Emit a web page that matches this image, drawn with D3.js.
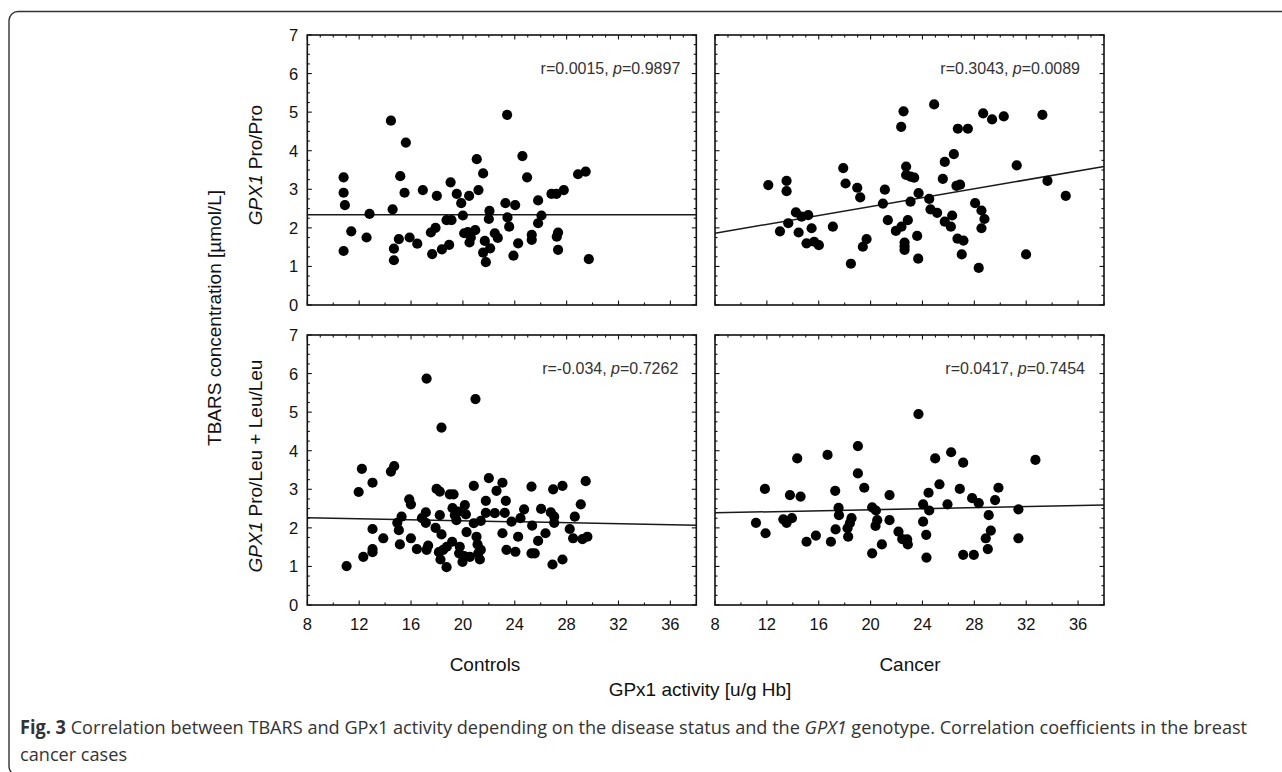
<!DOCTYPE html>
<html>
<head>
<meta charset="utf-8">
<script src="https://cdn.jsdelivr.net/npm/d3@7"></script>
<style>
  html, body { margin: 0; padding: 0; background: #fff; }
  svg { display: block; }
</style>
</head>
<body>
<svg id="chart" width="1282" height="772"></svg>
<script>
// ---------------- DATA ----------------
const xDomain = [8, 38];
const yDomain = [0, 7];
const xTickLabels = [8, 12, 16, 20, 24, 28, 32, 36];
const yTickLabels = [0, 1, 2, 3, 4, 5, 6, 7];
const columnLabels = ["Controls", "Cancer"];
const rowLabels = ["Pro/Pro", "Pro/Leu + Leu/Leu"];

const controlsProPro = [
  [10.8,3.31],[10.8,2.91],[10.9,2.59],[10.8,1.40],[11.39,1.91],[12.57,1.75],[12.8,2.36],[14.45,4.78],
  [14.58,2.48],[14.68,1.46],[14.68,1.16],[15.06,1.71],[15.17,3.34],[15.5,2.91],[15.6,4.21],[15.89,1.75],
  [16.48,1.59],[16.91,2.98],[17.63,1.32],[17.53,1.88],[17.89,2.0],[17.99,2.83],[18.38,1.44],[18.94,1.56],
  [18.74,2.20],[19.12,2.20],[19.05,3.18],[19.53,2.88],[19.87,2.64],[20.0,2.32],[20.1,1.86],[20.38,1.89],
  [20.48,2.83],[20.51,1.62],[20.61,1.75],[20.95,1.94],[21.07,3.78],[21.2,2.98],[21.56,3.41],[21.56,1.36],
  [21.69,1.66],[21.77,1.11],[22.05,2.44],[22.0,2.23],[22.1,1.47],[22.46,1.86],[22.69,1.74],[23.28,2.64],
  [23.41,4.93],[23.44,2.27],[23.57,2.03],[24.03,2.59],[23.9,1.28],[24.26,1.6],[24.59,3.86],[24.95,3.31],
  [25.31,1.82],[25.31,1.69],[25.8,2.71],[25.8,2.12],[26.06,2.32],[26.83,2.88],[27.21,2.88],[27.34,1.88],
  [27.24,1.77],[27.34,1.43],[27.78,2.98],[28.88,3.39],[29.47,3.46],[29.71,1.19]
];
const cancerProPro = [
  [12.11,3.11],[13.52,3.22],[13.52,2.95],[14.24,2.40],[14.68,2.29],[15.19,2.33],[13.65,2.12],[13.01,1.91],
  [14.45,1.88],[15.45,1.99],[15.06,1.60],[15.65,1.64],[16.01,1.55],[17.09,2.03],[17.89,3.55],[18.07,3.15],
  [18.48,1.07],[18.97,3.04],[19.2,2.79],[19.4,1.51],[19.69,1.71],[20.95,2.63],[21.1,2.99],[21.33,2.20],
  [21.95,1.92],[22.38,2.03],[22.36,4.62],[22.54,5.02],[22.74,3.59],[22.74,3.37],[23.08,3.33],[23.36,3.30],
  [22.87,2.20],[23.08,2.68],[22.62,1.62],[22.62,1.43],[22.62,1.52],[23.59,1.79],[23.7,2.90],[23.67,1.20],
  [24.52,2.75],[24.9,5.20],[24.62,2.48],[25.13,2.39],[25.72,2.16],[25.57,3.27],[25.72,3.71],[26.42,3.91],
  [26.29,2.32],[26.19,2.03],[26.62,3.09],[26.9,3.12],[26.73,4.57],[27.5,4.57],[26.7,1.72],[27.16,1.67],
  [27.03,1.31],[28.06,2.64],[28.55,2.45],[28.78,2.23],[28.55,1.99],[28.34,0.96],[28.68,4.97],[29.37,4.81],
  [30.27,4.89],[31.27,3.62],[31.99,1.31],[33.25,4.93],[33.64,3.22],[35.05,2.83]
];
const controlsLeu = [
  [11.03,1.01],[11.96,2.93],[12.21,3.53],[12.32,1.25],[13.03,3.17],[13.03,1.97],[13.03,1.45],[13.03,1.37],
  [13.86,1.73],[14.45,3.46],[14.7,3.60],[14.94,2.13],[15.06,1.94],[15.27,2.29],[15.14,1.57],[15.86,2.74],
  [15.99,2.61],[15.99,1.73],[16.45,1.45],[16.84,2.25],[17.14,2.40],[17.14,2.13],[17.2,5.87],[17.2,1.43],
  [17.32,1.54],[17.97,3.01],[18.22,2.94],[17.89,2.0],[18.22,2.33],[18.35,4.60],[18.35,1.83],[18.15,1.37],
  [18.27,1.18],[18.48,1.43],[18.74,0.98],[18.76,1.51],[18.99,2.87],[19.28,2.87],[19.2,2.51],[19.38,2.33],
  [19.5,2.20],[19.17,1.64],[19.64,2.42],[19.76,1.51],[19.71,1.34],[19.97,1.12],[20.15,2.59],[20.23,2.35],
  [20.1,1.27],[20.28,1.89],[20.84,3.09],[20.97,5.34],[20.54,1.25],[20.84,2.12],[21.05,1.77],[21.13,1.57],
  [21.18,1.34],[21.31,1.18],[21.38,2.18],[21.38,1.43],[21.77,2.70],[21.77,2.39],[22.0,3.29],[22.46,2.38],
  [22.59,2.96],[23.05,3.17],[23.23,2.39],[23.31,2.70],[23.05,1.86],[23.36,1.43],[24.05,1.38],[23.75,2.16],
  [24.26,1.77],[24.44,2.25],[24.72,2.48],[25.29,3.07],[25.34,2.06],[25.29,1.34],[25.54,1.34],[25.8,1.66],
  [26.03,2.49],[26.37,1.86],[26.78,2.40],[26.96,3.0],[26.91,1.05],[27.04,2.29],[27.04,2.13],[27.68,3.09],
  [27.68,1.18],[28.24,1.97],[28.5,1.73],[28.63,2.29],[29.09,2.61],[29.22,1.71],[29.47,3.21],[29.6,1.77]
];
const cancerLeu = [
  [11.16,2.13],[11.85,3.01],[11.9,1.86],[13.27,2.22],[13.52,2.13],[13.93,2.25],[13.78,2.85],[14.34,3.80],
  [14.6,2.81],[15.06,1.64],[15.78,1.80],[16.68,3.89],[16.94,1.64],[17.27,2.96],[17.3,1.96],[17.53,2.52],
  [17.56,2.33],[18.22,1.99],[18.27,1.77],[18.4,2.12],[18.53,2.25],[19.02,4.12],[19.02,3.41],[19.51,3.04],
  [20.12,2.53],[20.12,1.34],[20.41,2.45],[20.51,2.20],[20.38,2.05],[20.87,1.57],[21.46,2.85],[21.46,2.20],
  [22.15,1.90],[22.44,1.71],[22.82,1.70],[22.87,1.57],[23.69,4.95],[24.05,2.61],[24.05,2.16],[24.29,1.82],
  [24.31,1.23],[24.47,2.91],[24.52,2.45],[24.98,3.80],[25.31,3.13],[25.93,2.61],[26.21,3.96],[26.88,3.01],
  [27.14,3.69],[27.14,1.30],[27.96,1.30],[27.83,2.77],[28.34,2.64],[28.88,1.73],[29.04,1.45],[29.11,2.33],
  [29.27,1.93],[29.6,2.72],[29.86,3.04],[31.4,2.48],[31.4,1.73],[32.71,3.76]
];
// regression line values at x = 8 and x = 38
const fitLines = [[2.34, 2.34], [1.86, 3.59], [2.26, 2.07], [2.39, 2.59]];
const stats = [["0.0015", "0.9897"], ["0.3043", "0.0089"], ["-0.034", "0.7262"], ["0.0417", "0.7454"]];

// ---------------- LAYOUT ----------------
const svg = d3.select("#chart");
const W = 1282, H = 772;
const panelW = 389, panelH = 270;
const colX = [307.3, 715];
const rowY = [35, 335];
const statRight = [16, 24, 18, 19];
const axisFont = "'Liberation Sans', Arial, sans-serif";

// outer rounded frame (right and bottom run off the picture)
svg.append("rect")
  .attr("x", 9).attr("y", 11.5).attr("width", 1300).attr("height", 764)
  .attr("rx", 9).attr("ry", 9)
  .attr("fill", "none").attr("stroke", "#333").attr("stroke-width", 1.4);

const x = d3.scaleLinear().domain(xDomain).range([0, panelW]);
const y = d3.scaleLinear().domain(yDomain).range([panelH, 0]);

const panels = [
  { data: controlsProPro, col: 0, row: 0 },
  { data: cancerProPro, col: 1, row: 0 },
  { data: controlsLeu, col: 0, row: 1 },
  { data: cancerLeu, col: 1, row: 1 }
];

panels.forEach((p, i) => {
  const g = svg.append("g").attr("transform", `translate(${colX[p.col]},${rowY[p.row]})`);

  // ticks (inside)
  const tickG = g.append("g").attr("stroke", "#111").attr("stroke-width", 1.1);
  d3.range(0, 7.001, 0.25).forEach(v => {
    const len = Math.abs(v - Math.round(v)) < 1e-6 ? 4.5 : 2.5;
    tickG.append("line").attr("x1", 0).attr("x2", len).attr("y1", y(v)).attr("y2", y(v));
    tickG.append("line").attr("x1", panelW).attr("x2", panelW - len).attr("y1", y(v)).attr("y2", y(v));
  });
  d3.range(8, 38.001, 1).forEach(v => {
    const major = (v % 4) === 0;
    tickG.append("line").attr("x1", x(v)).attr("x2", x(v)).attr("y1", 0).attr("y2", major ? 4.5 : 2.5);
    if (v % 2 === 0) {
      tickG.append("line").attr("x1", x(v)).attr("x2", x(v)).attr("y1", panelH).attr("y2", panelH - (major ? 4.5 : 2.5));
    }
  });

  // regression line
  g.append("line")
    .attr("x1", x(xDomain[0])).attr("y1", y(fitLines[i][0]))
    .attr("x2", x(xDomain[1])).attr("y2", y(fitLines[i][1]))
    .attr("stroke", "#1a1a1a").attr("stroke-width", 1.5);

  // points
  g.append("g").selectAll("circle").data(p.data).join("circle")
    .attr("cx", d => x(d[0])).attr("cy", d => y(d[1])).attr("r", 5.1)
    .attr("fill", "#000");

  // frame
  g.append("rect").attr("x", 0).attr("y", 0).attr("width", panelW).attr("height", panelH)
    .attr("fill", "none").attr("stroke", "#111").attr("stroke-width", 1.6);

  // stats annotation
  const t = g.append("text")
    .attr("x", panelW - statRight[i]).attr("y", 39)
    .attr("text-anchor", "end")
    .attr("font-family", axisFont).attr("font-size", 16).attr("fill", "#333");
  t.append("tspan").text(`r=${stats[i][0]}, `);
  t.append("tspan").attr("font-style", "italic").text("p");
  t.append("tspan").text(`=${stats[i][1]}`);

  // y tick labels on left panels
  if (p.col === 0) {
    g.append("g").selectAll("text").data(yTickLabels).join("text")
      .attr("x", -9).attr("y", d => y(d)).attr("dy", "0.36em")
      .attr("text-anchor", "end")
      .attr("font-family", axisFont).attr("font-size", 16.5).attr("fill", "#111")
      .text(d => d);
  }
  // x tick labels on bottom panels
  if (p.row === 1) {
    g.append("g").selectAll("text").data(xTickLabels).join("text")
      .attr("x", d => x(d)).attr("y", panelH + 25)
      .attr("text-anchor", "middle")
      .attr("font-family", axisFont).attr("font-size", 16.5).attr("fill", "#111")
      .text(d => d);
  }
});

// row labels (rotated)
[0, 1].forEach(r => {
  const cy = r === 0 ? 165 : 466;
  const t = svg.append("text")
    .attr("transform", `translate(262,${cy}) rotate(-90)`)
    .attr("text-anchor", "middle")
    .attr("font-family", axisFont).attr("font-size", 19).attr("fill", "#111");
  t.append("tspan").attr("font-style", "italic").text("GPX1");
  t.append("tspan").text(" " + rowLabels[r]);
});

svg.append("text")
  .attr("transform", "translate(221,318) rotate(-90)")
  .attr("text-anchor", "middle")
  .attr("font-family", axisFont).attr("font-size", 19).attr("fill", "#111")
  .text("TBARS concentration [µmol/L]");

// column labels
svg.append("text").attr("x", 485).attr("y", 671).attr("text-anchor", "middle")
  .attr("font-family", axisFont).attr("font-size", 19).attr("fill", "#111").text(columnLabels[0]);
svg.append("text").attr("x", 910).attr("y", 671).attr("text-anchor", "middle")
  .attr("font-family", axisFont).attr("font-size", 19).attr("fill", "#111").text(columnLabels[1]);
svg.append("text").attr("x", 700).attr("y", 696).attr("text-anchor", "middle")
  .attr("font-family", axisFont).attr("font-size", 19).attr("fill", "#111").text("GPx1 activity [u/g Hb]");

// caption
const cap = svg.append("g");
const capFont = "'Open Sans', 'Noto Sans', sans-serif";
const l1 = cap.append("text").attr("x", 0).attr("y", 0)
  .attr("font-family", capFont).attr("font-size", 19).attr("fill", "#333");
l1.append("tspan").attr("font-weight", "bold").text("Fig. 3");
l1.append("tspan").text(" Correlation between TBARS and GPx1 activity depending on the disease status and the ");
l1.append("tspan").attr("font-style", "italic").text("GPX1");
l1.append("tspan").text(" genotype. Correlation coefficients in the breast");
cap.append("text").attr("x", 0).attr("y", 27)
  .attr("font-family", capFont).attr("font-size", 19).attr("fill", "#333")
  .text("cancer cases");
const natural = l1.node().getComputedTextLength();
const sx = 1228 / natural;
cap.attr("transform", `translate(20,734) scale(${sx},1)`);
</script>
</body>
</html>
